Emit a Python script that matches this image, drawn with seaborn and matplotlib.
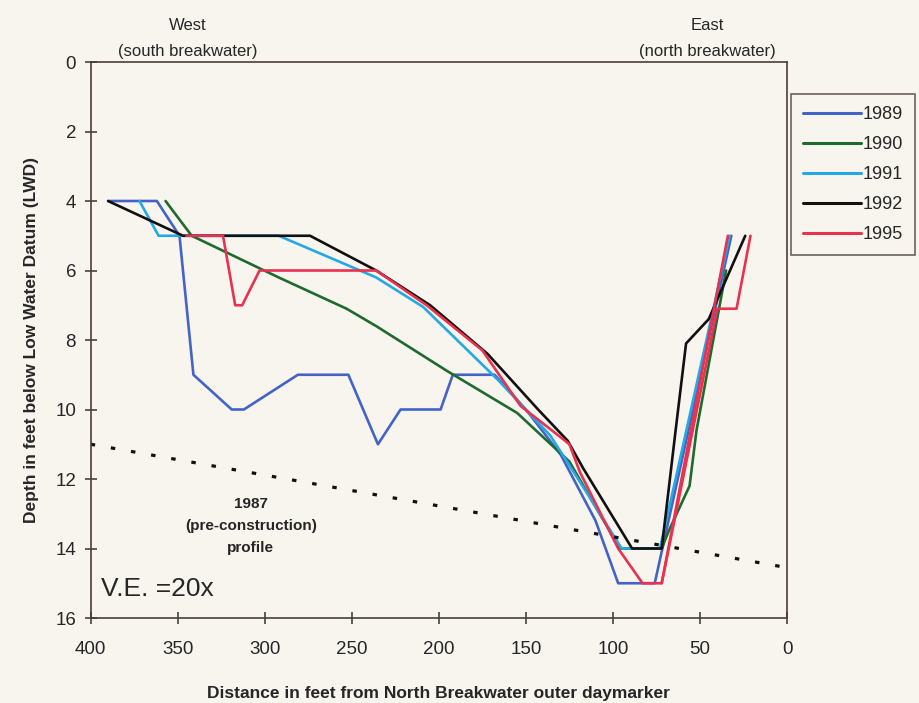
import pandas as pd
import matplotlib
matplotlib.use('Agg')
import matplotlib.pyplot as plt
import seaborn as sns
from matplotlib.lines import Line2D

# profile data (distance ft, depth ft below LWD)
x1989 = [390, 362, 349, 341, 319, 312, 281, 252, 235, 222, 199, 192, 168, 150, 130, 110, 97, 76, 32]
y1989 = [4, 4, 5, 9, 10, 10, 9, 9, 11, 10, 10, 9, 9, 10.0, 11.3, 13.2, 15, 15, 5]

x1990 = [357, 342, 292, 253, 236, 195, 155, 125, 110, 96, 72, 68, 56, 52, 35]
y1990 = [4, 5, 6.2, 7.1, 7.6, 8.9, 10.1, 11.5, 12.8, 14, 14, 13.5, 12.2, 10.6, 6]

x1991 = [372, 361, 350, 292, 236, 209, 166, 136, 120, 105, 95, 73, 64, 33]
y1991 = [4, 5, 5, 5, 6.2, 7.05, 9.15, 10.75, 12.0, 13.2, 14, 14, 12, 5]

x1992 = [390, 347, 274, 236, 205, 172, 143, 126, 117, 89, 72, 64, 58, 45, 24]
y1992 = [4, 5, 5, 6, 7, 8.4, 10, 10.9, 11.7, 14, 14, 10.6, 8.1, 7.4, 5]

# 1995 is drawn in two pieces
x1995 = [345, 324, 317, 313, 303, 236, 207, 175, 153, 130, 125, 119, 97, 83, 72, 34]
y1995 = [5, 5, 7, 7, 6, 6, 7, 8.3, 9.9, 10.8, 11.0, 11.8, 14, 15, 15, 5]
x1995b = [72, 40, 29, 21]
y1995b = [15, 7.1, 7.1, 5]

x1987 = [400, 0]
y1987 = [11, 14.55]

years = ['1989', '1990', '1991', '1992', '1995']
colors = ['#4463C6', '#1F6A2E', '#22A9E6', '#111111', '#E8324F']

frames = []
for yr, xs, ys, part in [('1989', x1989, y1989, 0), ('1990', x1990, y1990, 0),
                          ('1991', x1991, y1991, 0), ('1992', x1992, y1992, 0),
                          ('1995', x1995, y1995, 0), ('1995', x1995b, y1995b, 1)]:
    frames.append(pd.DataFrame({'dist': xs, 'depth': ys, 'year': yr, 'part': f'{yr}-{part}'}))
df = pd.concat(frames, ignore_index=True)

sns.set_style('ticks')
plt.rcParams['font.family'] = ['Liberation Sans', 'DejaVu Sans']

bg = '#F8F5EF'
fig = plt.figure(figsize=(9.19, 7.03), dpi=100, facecolor=bg)
ax = fig.add_axes([0.0987, 0.1209, 0.7577, 0.7909])
ax.set_facecolor(bg)

sns.lineplot(data=df, x='dist', y='depth', hue='year', units='part', estimator=None,
             sort=False, palette=dict(zip(years, colors)), linewidth=1.9, legend=False, ax=ax)
ax.plot(x1987, y1987, color='#111111', linewidth=2.3, linestyle=(0, (1.4, 5.0)))

ax.set_xlim(400, 0)
ax.set_ylim(16, 0)
ax.set_xticks(range(400, -1, -50))
ax.set_yticks(range(0, 17, 2))
ax.tick_params(direction='inout', length=9, width=1.1, labelsize=13.5, color='#3a3030')
ax.tick_params(axis='x', pad=12)
ax.tick_params(axis='y', pad=6)

for s in ax.spines.values():
    s.set_color('#4a3c3c')
    s.set_linewidth(1.2)

ax.set_xlabel('Distance in feet from North Breakwater outer daymarker',
              fontsize=12.5, fontweight='bold', labelpad=20)
ax.set_ylabel('Depth in feet below Low Water Datum (LWD)', fontsize=12.5, fontweight='bold', labelpad=12)

ax.text(308, 13.35, '1987\n(pre-construction)\nprofile', ha='center', va='center',
        fontsize=11, fontweight='bold', linespacing=1.75)
ax.text(0.015, 0.03, 'V.E. =20x', transform=ax.transAxes, fontsize=19, ha='left', va='bottom')

ax.text(0.14, 1.006, 'West\n(south breakwater)', transform=ax.transAxes, ha='center',
        va='bottom', fontsize=12, linespacing=1.85)
ax.text(0.885, 1.006, 'East\n(north breakwater)', transform=ax.transAxes, ha='center',
        va='bottom', fontsize=12, linespacing=1.85)

handles = [Line2D([], [], color=c, linewidth=2.2) for c in colors]
leg = fig.legend(handles, years, loc='upper left', bbox_to_anchor=(0.861, 0.866),
                 fontsize=13, frameon=True, fancybox=False, handlelength=3.2,
                 handletextpad=0.1, labelspacing=0.72, borderpad=0.65, borderaxespad=0)
leg.get_frame().set_edgecolor('#4a3c3c')
leg.get_frame().set_facecolor(bg)
leg.get_frame().set_linewidth(1.2)

fig.savefig('out.png', dpi=100, facecolor=bg)
